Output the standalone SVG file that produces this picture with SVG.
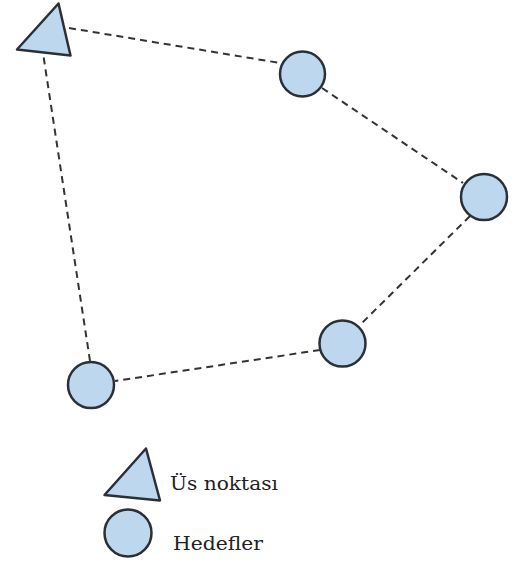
<svg xmlns="http://www.w3.org/2000/svg" width="514" height="563" viewBox="0 0 514 563">
<style>
.n{fill:#bdd7ee;stroke:#2b3038;stroke-width:2.5;stroke-linejoin:round}
.c{stroke:#333;stroke-width:2;stroke-dasharray:7 5;fill:none}
.t{font-family:'DejaVu Serif','Liberation Serif',serif;font-size:18px;fill:#222}
</style>
<rect width="514" height="563" fill="#fff"/>
<g id="connectors">
<line class="c" x1="69" y1="28" x2="280" y2="63"/>
<line class="c" x1="322" y1="88" x2="463" y2="183"/>
<line class="c" x1="470" y1="216" x2="362" y2="323"/>
<line class="c" x1="320" y1="350" x2="115" y2="381"/>
<line class="c" x1="90" y1="361" x2="43" y2="53"/>
</g>
<g id="base"><polygon class="n" points="58.5,3.5 17,49.5 70.5,55.5"/></g>
<g id="t1"><circle class="n" cx="302.5" cy="74" r="22.5"/></g>
<g id="t2"><circle class="n" cx="484" cy="197" r="23"/></g>
<g id="t3"><circle class="n" cx="342.5" cy="343.5" r="23"/></g>
<g id="t4"><circle class="n" cx="91" cy="385" r="23"/></g>
<g id="legend-base">
<polygon class="n" points="146,448.5 104.5,495 160,500.5"/>
<text class="t" x="170" y="490" textLength="108" lengthAdjust="spacingAndGlyphs">Üs noktası</text>
</g>
<g id="legend-target">
<circle class="n" cx="128" cy="533" r="23.5"/>
<text class="t" x="173" y="550" textLength="90" lengthAdjust="spacingAndGlyphs">Hedefler</text>
</g>
</svg>
